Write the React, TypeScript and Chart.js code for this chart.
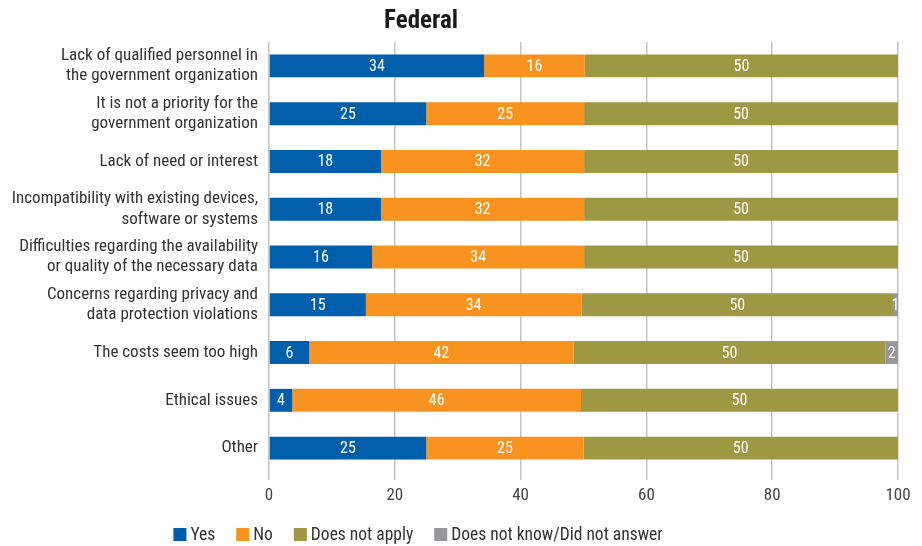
import React, { useEffect, useRef } from "react";
import { Chart, registerables } from "chart.js";

Chart.register(...registerables);

const chartTitle = "Federal";
const categories: (string | string[])[] = [
  ["Lack of qualified personnel in", "the government organization"],
  ["It is not a priority for the", "government organization"],
  "Lack of need or interest",
  ["Incompatibility with existing devices,", "software or systems"],
  ["Difficulties regarding the availability", "or quality of the necessary data"],
  ["Concerns regarding privacy and", "data protection violations"],
  "The costs seem too high",
  "Ethical issues",
  "Other",
];
const seriesNames = ["Yes", "No", "Does not apply", "Does not know/Did not answer"];
const yesValues = [34.2, 25.0, 17.8, 17.8, 16.4, 15.4, 6.4, 3.7, 25.0];
const noValues = [16.0, 25.1, 32.3, 32.3, 33.7, 34.3, 42.0, 45.9, 25.0];
const naValues = [49.8, 49.9, 49.9, 49.9, 49.9, 49.5, 49.6, 50.4, 50.0];
const dkValues = [0, 0, 0, 0, 0, 0.8, 2.0, 0, 0];
const seriesColors = ["#005EAA", "#F7931E", "#9E9844", "#97979B"];
const xTicks = [0, 20, 40, 60, 80, 100];

const FONT = "'Roboto Condensed', 'Liberation Sans Narrow', 'DejaVu Sans Condensed', 'Arial Narrow', sans-serif";

const labelPlugin = {
  id: "barLabels",
  afterDatasetsDraw(chart: any) {
    const ctx = chart.ctx;
    ctx.save();
    ctx.font = `16px ${FONT}`;
    ctx.fillStyle = "#ffffff";
    ctx.textAlign = "center";
    ctx.textBaseline = "middle";
    chart.data.datasets.forEach((ds: any, di: number) => {
      const meta = chart.getDatasetMeta(di);
      meta.data.forEach((el: any, i: number) => {
        const v = ds.data[i];
        if (!v) return;
        const p = el.getCenterPoint();
        ctx.fillText(String(Math.round(v)), p.x, p.y + 1);
      });
    });
    ctx.restore();
  },
};

const decorPlugin = {
  id: "decor",
  afterDraw(chart: any) {
    const ctx = chart.ctx;
    ctx.save();
    // title
    ctx.font = `bold 25px ${FONT}`;
    ctx.fillStyle = "#1a1a1a";
    ctx.textAlign = "center";
    ctx.textBaseline = "middle";
    ctx.fillText(chartTitle, 421, 22);
    // legend
    ctx.font = `17.5px ${FONT}`;
    ctx.textAlign = "left";
    const box = 13;
    const gapBox = 4;
    const gapItem = 21;
    const widths = seriesNames.map((n) => box + gapBox + ctx.measureText(n).width);
    const total = widths.reduce((a, b) => a + b, 0) + gapItem * (seriesNames.length - 1);
    let x = 418 - total / 2;
    const y = 534.5;
    seriesNames.forEach((n, i) => {
      ctx.fillStyle = seriesColors[i];
      ctx.fillRect(x, y - box / 2, box, box);
      ctx.fillStyle = "#333333";
      ctx.fillText(n, x + box + gapBox, y + 1);
      x += widths[i] + gapItem;
    });
    ctx.restore();
  },
};

export default function App() {
  const ref = useRef<HTMLCanvasElement>(null);
  useEffect(() => {
    if (!ref.current) return;
    const values = [yesValues, noValues, naValues, dkValues];
    const chart = new Chart(ref.current, {
      type: "bar",
      data: {
        labels: categories,
        datasets: seriesNames.map((name, i) => ({
          label: name,
          data: values[i],
          backgroundColor: seriesColors[i],
          borderWidth: 0,
          categoryPercentage: 0.8,
          barPercentage: 0.6,
        })),
      },
      options: {
        indexAxis: "y",
        animation: false,
        responsive: false,
        maintainAspectRatio: false,
        layout: { padding: { left: 0, top: 42, right: 24, bottom: 44 } },
        plugins: {
          legend: { display: false },
          title: { display: false },
          tooltip: { enabled: false },
        },
        scales: {
          x: {
            stacked: true,
            min: 0,
            max: 100,
            afterBuildTicks: (scale: any) => {
              scale.ticks = xTicks.map((v) => ({ value: v }));
            },
            afterFit: (scale: any) => {
              scale.height = 30;
            },
            grid: { color: "#c4c4c4", lineWidth: 1.5, tickLength: 8, drawTicks: true },
            border: { display: false },
            ticks: {
              padding: 6,
              color: "#444444",
              font: { family: FONT, size: 17 },
            },
          },
          y: {
            stacked: true,
            afterFit: (scale: any) => {
              scale.width = 269;
            },
            grid: { display: false, drawTicks: false },
            border: { display: false },
            ticks: {
              padding: 11,
              color: "#333333",
              font: { family: FONT, size: 17, lineHeight: 1.18 },
            },
          },
        },
      },
      plugins: [labelPlugin, decorPlugin],
    });
    return () => chart.destroy();
  }, []);
  return (
    <div style={{ position: "fixed", left: 0, top: 0, width: 922, height: 546 }}>
      <canvas ref={ref} width={922} height={546} style={{ width: 922, height: 546 }} />
    </div>
  );
}
